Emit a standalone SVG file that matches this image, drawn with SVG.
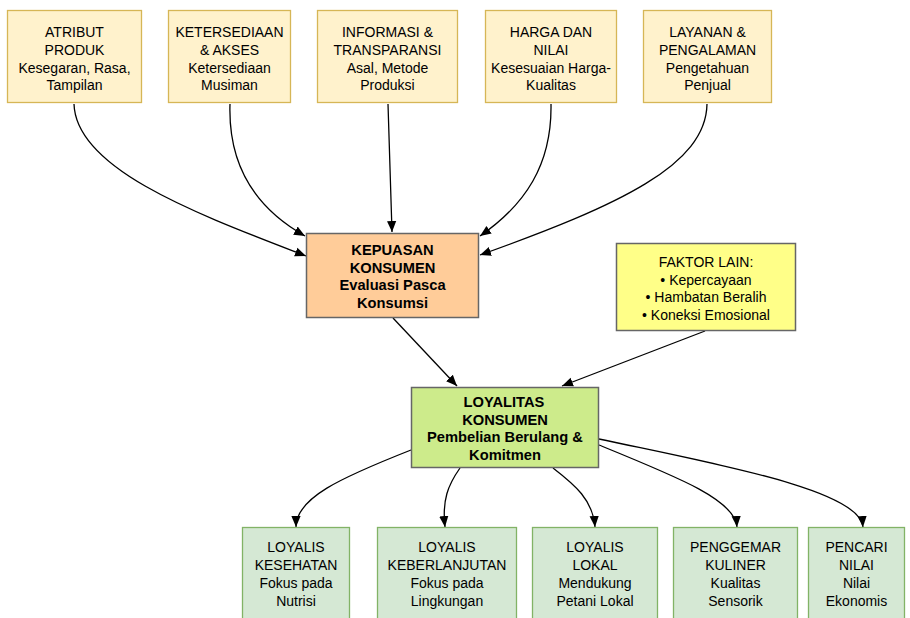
<svg xmlns="http://www.w3.org/2000/svg" width="910" height="618" viewBox="0 0 910 618">
  <style>
    text { font-family: "Liberation Sans", Arial, sans-serif; font-size: 14px; fill: #000; text-anchor: middle; }
    .b { font-weight: bold; font-size: 14.7px; }
    .factor { fill: #FFF2CC; stroke: #D6B656; stroke-width: 1.3; }
    .satis { fill: #FFCC99; stroke: #666; stroke-width: 1.5; }
    .other { fill: #FFFF88; stroke: #666; stroke-width: 1.5; }
    .loyal { fill: #CDEB8B; stroke: #666; stroke-width: 1.5; }
    .seg { fill: #D5E8D4; stroke: #82B366; stroke-width: 1.3; }
    .edge { fill: none; stroke: #000; stroke-width: 1.3; marker-end: url(#arrow); }
  </style>
  <defs>
    <marker id="arrow" viewBox="0 0 10 10" refX="10" refY="5" markerWidth="11" markerHeight="11" markerUnits="userSpaceOnUse" orient="auto">
      <path d="M0,0.8 L10,5 L0,9.2 Z" fill="#000"/>
    </marker>
  </defs>

  <rect width="910" height="618" fill="#fff"/>

  <!-- connectors -->
  <g id="connectors">
    <path class="edge" d="M74,104 C76,170 200,215 306,256"/>
    <path class="edge" d="M230,104 C228,165 255,208 305,236"/>
    <path class="edge" d="M388,104 L392,232"/>
    <path class="edge" d="M551,104 C552,165 525,205 480,236"/>
    <path class="edge" d="M707,104 C706,165 620,205 480,255"/>
    <path class="edge" d="M393,318 L457,386"/>
    <path class="edge" d="M705,331 L562,386"/>
    <path class="edge" d="M411,450 C340,478 296,498 296,527"/>
    <path class="edge" d="M460,468 C448,485 442,500 445,527"/>
    <path class="edge" d="M553,468 C575,485 593,500 595,527"/>
    <path class="edge" d="M599,445 C680,478 735,500 737,527"/>
    <path class="edge" d="M599,439 C720,465 860,490 863,527"/>
  </g>

  <!-- top factors -->
  <g id="atribut-produk">
    <rect class="factor" x="7.5" y="10.5" width="134" height="92"/>
    <text x="74.5" y="37">ATRIBUT</text>
    <text x="74.5" y="54.5">PRODUK</text>
    <text x="74.5" y="72.5">Kesegaran, Rasa,</text>
    <text x="74.5" y="90">Tampilan</text>
  </g>
  <g id="ketersediaan">
    <rect class="factor" x="168.5" y="10.5" width="122" height="92"/>
    <text x="229.5" y="37">KETERSEDIAAN</text>
    <text x="229.5" y="54.5">&amp; AKSES</text>
    <text x="229.5" y="72.5">Ketersediaan</text>
    <text x="229.5" y="90">Musiman</text>
  </g>
  <g id="informasi">
    <rect class="factor" x="317.5" y="10.5" width="140" height="92"/>
    <text x="387.5" y="37">INFORMASI &amp;</text>
    <text x="387.5" y="54.5">TRANSPARANSI</text>
    <text x="387.5" y="72.5">Asal, Metode</text>
    <text x="387.5" y="90">Produksi</text>
  </g>
  <g id="harga">
    <rect class="factor" x="485.5" y="10.5" width="131" height="92"/>
    <text x="551" y="37">HARGA DAN</text>
    <text x="551" y="54.5">NILAI</text>
    <text x="551" y="72.5">Kesesuaian Harga-</text>
    <text x="551" y="90">Kualitas</text>
  </g>
  <g id="layanan">
    <rect class="factor" x="643.5" y="10.5" width="128" height="92"/>
    <text x="707.5" y="37">LAYANAN &amp;</text>
    <text x="707.5" y="54.5">PENGALAMAN</text>
    <text x="707.5" y="72.5">Pengetahuan</text>
    <text x="707.5" y="90">Penjual</text>
  </g>

  <!-- satisfaction -->
  <g id="kepuasan">
    <rect class="satis" x="306.5" y="233.5" width="172" height="84"/>
    <text class="b" x="392.5" y="255">KEPUASAN</text>
    <text class="b" x="392.5" y="272.5">KONSUMEN</text>
    <text class="b" x="392.5" y="290">Evaluasi Pasca</text>
    <text class="b" x="392.5" y="307.5">Konsumsi</text>
  </g>

  <!-- other factors -->
  <g id="faktor-lain">
    <rect class="other" x="616.5" y="243.5" width="179" height="87"/>
    <text x="706" y="267">FAKTOR LAIN:</text>
    <text x="706" y="284.5">• Kepercayaan</text>
    <text x="706" y="302">• Hambatan Beralih</text>
    <text x="706" y="320">• Koneksi Emosional</text>
  </g>

  <!-- loyalty -->
  <g id="loyalitas">
    <rect class="loyal" x="411.5" y="387.5" width="187" height="80"/>
    <text class="b" x="504" y="407">LOYALITAS</text>
    <text class="b" x="505" y="424.5">KONSUMEN</text>
    <text class="b" x="505" y="442">Pembelian Berulang &amp;</text>
    <text class="b" x="505" y="460">Komitmen</text>
  </g>

  <!-- loyalty segments -->
  <g id="loyalis-kesehatan">
    <rect class="seg" x="242.5" y="527.5" width="107" height="100"/>
    <text x="296" y="552">LOYALIS</text>
    <text x="296" y="570">KESEHATAN</text>
    <text x="296" y="588">Fokus pada</text>
    <text x="296" y="606">Nutrisi</text>
  </g>
  <g id="loyalis-keberlanjutan">
    <rect class="seg" x="377.5" y="527.5" width="139" height="100"/>
    <text x="447" y="552">LOYALIS</text>
    <text x="447" y="570">KEBERLANJUTAN</text>
    <text x="447" y="588">Fokus pada</text>
    <text x="447" y="606">Lingkungan</text>
  </g>
  <g id="loyalis-lokal">
    <rect class="seg" x="532.5" y="527.5" width="125" height="100"/>
    <text x="595" y="552">LOYALIS</text>
    <text x="595" y="570">LOKAL</text>
    <text x="595" y="588">Mendukung</text>
    <text x="595" y="606">Petani Lokal</text>
  </g>
  <g id="penggemar-kuliner">
    <rect class="seg" x="673.5" y="527.5" width="124" height="100"/>
    <text x="735.5" y="552">PENGGEMAR</text>
    <text x="735.5" y="570">KULINER</text>
    <text x="735.5" y="588">Kualitas</text>
    <text x="735.5" y="606">Sensorik</text>
  </g>
  <g id="pencari-nilai">
    <rect class="seg" x="808.5" y="527.5" width="96" height="100"/>
    <text x="856.5" y="552">PENCARI</text>
    <text x="856.5" y="570">NILAI</text>
    <text x="856.5" y="588">Nilai</text>
    <text x="856.5" y="606">Ekonomis</text>
  </g>
</svg>
